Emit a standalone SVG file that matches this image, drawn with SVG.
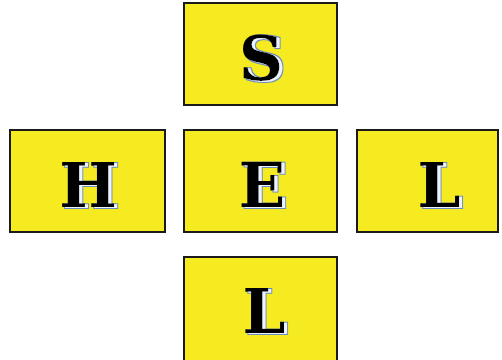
<svg xmlns="http://www.w3.org/2000/svg" width="502" height="360" viewBox="0 0 502 360">
<defs>
<filter id="emboss" x="-20%" y="-20%" width="140%" height="140%">
<feOffset in="SourceAlpha" dx="3" dy="1" result="o1"/>
<feMorphology in="o1" operator="dilate" radius="0.6" result="o1d"/>
<feFlood flood-color="#6a8cc0" result="c1"/>
<feComposite in="c1" in2="o1d" operator="in" result="edge"/>
<feFlood flood-color="#eef4ff" result="c2"/>
<feComposite in="c2" in2="o1" operator="in" result="hl"/>
<feMerge>
<feMergeNode in="edge"/>
<feMergeNode in="hl"/>
<feMergeNode in="SourceGraphic"/>
</feMerge>
</filter>
</defs>
<style>
.box{fill:#f6ea20;stroke:#1a1a1a;stroke-width:2}
.t{font-family:"DejaVu Serif","Liberation Serif",serif;font-weight:bold;font-size:61px;text-anchor:middle;fill:#000;filter:url(#emboss)}
</style>
<rect width="502" height="360" fill="#fff"/>
<g id="connectors"/>
<g id="node-S">
<rect class="box" x="184" y="3" width="153" height="102"/>
<text class="t" x="261" y="80">S</text>
</g>
<g id="node-H">
<rect class="box" x="10" y="130" width="155" height="102"/>
<text class="t" x="88" y="207">H</text>
</g>
<g id="node-E">
<rect class="box" x="184" y="130" width="153" height="102"/>
<text class="t" x="262" y="207">E</text>
</g>
<g id="node-L1">
<rect class="box" x="357" y="130" width="141" height="102"/>
<text class="t" x="439" y="207">L</text>
</g>
<g id="node-L2">
<rect class="box" x="184" y="257" width="153" height="104"/>
<text class="t" x="264" y="333">L</text>
</g>
</svg>
